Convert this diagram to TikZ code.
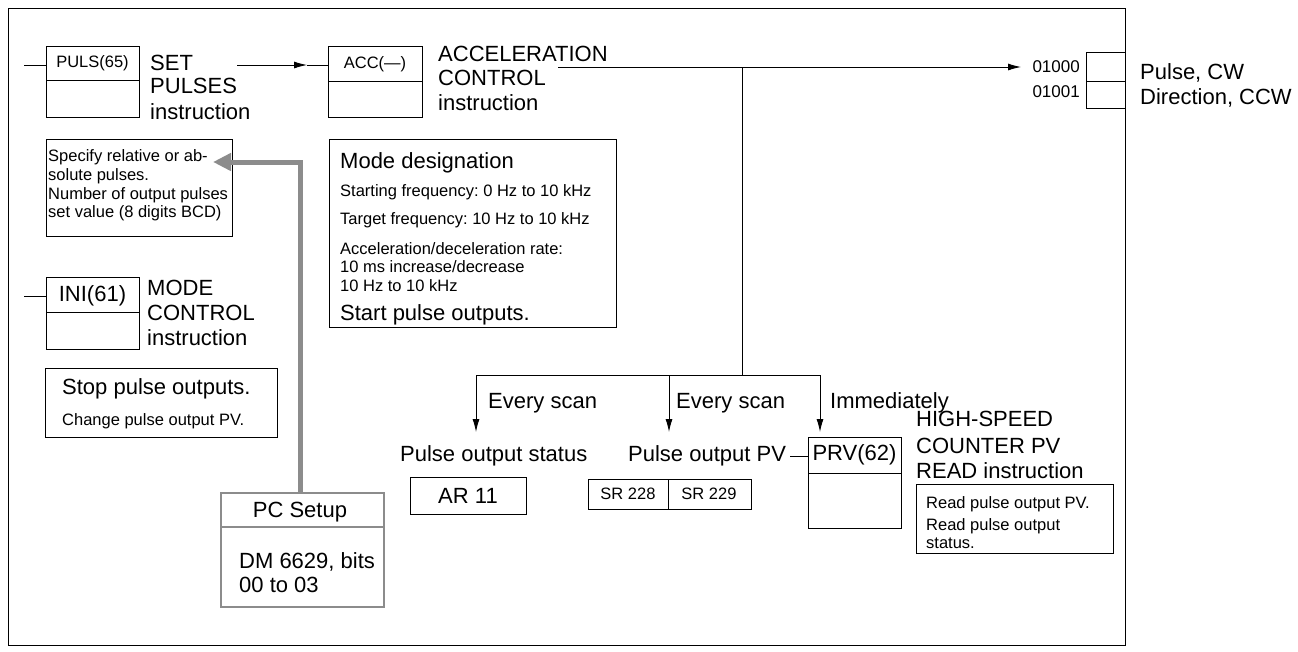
\documentclass[tikz,border=0pt]{standalone}
\usepackage{fontspec}
\setmainfont{Liberation Sans}
\usetikzlibrary{arrows.meta}
\begin{document}
\frenchspacing
\begin{tikzpicture}[x=1pt,y=-1pt,
  L/.style={inner sep=0,anchor=base west,font=\fontsize{22}{26}\selectfont},
  S/.style={inner sep=0,anchor=base west,font=\fontsize{16.5}{19}\selectfont},
  M/.style={inner sep=0,anchor=base east,font=\fontsize{17}{19}\selectfont},
  bx/.style={draw,line width=0.9pt,anchor=north west,inner sep=0},
  ln/.style={line width=0.9pt},
  arr/.style={ln,-{Latex[length=13,width=7]}},
  garr/.style={line width=5pt,draw=black!45,-{Triangle[length=18,width=17]}}]
\useasboundingbox (0,0) rectangle (1298,651);
\draw[ln] (8,8) rectangle (1125,645);
% PULS
\node[bx,minimum width=93,minimum height=71] (puls) at (46,46) {};
\draw[ln] (46,80) -- (139,80);
\node[S,anchor=center] at (92.5,63) {PULS(65)};
\coordinate (pl) at (24,65);
\draw[ln] (pl) -- (puls.west|-pl);
\node[L] at (150,70) {SET};
\node[L] at (150,93) {PULSES};
\node[L] at (150,119) {instruction};
% ACC
\node[bx,minimum width=94,minimum height=71] (acc) at (328,46) {};
\draw[ln] (328,81) -- (422,81);
\node[S,anchor=center] at (375,64) {ACC(---)};
\coordinate (a1) at (237,65);
\coordinate (a2) at (307,65);
\draw[arr] (a1) -- (a2);
\draw[ln] (a2) -- (acc.west|-a2);
\node[L] at (438,61) {ACCELERATION};
\node[L] at (438,85) {CONTROL};
\node[L] at (438,110) {instruction};
% main line
\coordinate (m1) at (558,67);
\coordinate (m2) at (1021,67);
\draw[arr] (m1) -- (m2);
\node[M] at (1080,72) {01000};
\node[M] at (1080,97) {01001};
\node[bx,minimum width=39,minimum height=56] (out) at (1086,52) {};
\draw[ln] (1086,81) -- (1125,81);
\node[L] at (1140,79) {Pulse, CW};
\node[L] at (1140,104) {Direction, CCW};
% spec box
\node[bx,minimum width=186,minimum height=97] (spec) at (46,139) {};
\node[S] at (48,161) {Specify relative or ab-};
\node[S] at (48,180) {solute pulses.};
\node[S] at (48,199) {Number of output pulses};
\node[S] at (48,217) {set value (8 digits BCD)};
% mode box
\node[bx,minimum width=287,minimum height=188] (mode) at (329,139) {};
\node[L] at (340,168) {Mode designation};
\node[S] at (340,196) {Starting frequency: 0 Hz to 10 kHz};
\node[S] at (340,224) {Target frequency: 10 Hz to 10 kHz};
\node[S] at (340,254) {Acceleration/deceleration rate:};
\node[S] at (340,272) {10 ms increase/decrease};
\node[S] at (340,291) {10 Hz to 10 kHz};
\node[L] at (340,320) {Start pulse outputs.};
% INI
\node[bx,minimum width=93,minimum height=72] (ini) at (46,277) {};
\draw[ln] (46,312) -- (139,312);
\node[L,anchor=center] at (92.5,296) {INI(61)};
\coordinate (il) at (24,296);
\draw[ln] (il) -- (ini.west|-il);
\node[L] at (147,295) {MODE};
\node[L] at (147,320) {CONTROL};
\node[L] at (147,345) {instruction};
% stop box
\node[bx,minimum width=232,minimum height=69] (stop) at (45,368) {};
\node[L] at (62,394) {Stop pulse outputs.};
\node[S] at (62,425) {Change pulse output PV.};
% PC setup
\node[draw=black!45,line width=2pt,anchor=north west,inner sep=0,minimum width=163,minimum height=114] (pc) at (220,492) {};
\draw[draw=black!45,line width=2pt] (220,527) -- (383,527);
\node[L,anchor=center] at (300,512) {PC Setup};
\node[L] at (239,568) {DM 6629, bits};
\node[L] at (239,592) {00 to 03};
\coordinate (g1) at (300,162);
\coordinate (g2) at (213,162);
\draw[garr] (pc.north-|g1) -- (g1) -- (g2);
% branches
\coordinate (b0) at (742,67);
\coordinate (b1) at (742,375);
\coordinate (l1) at (476,375);
\coordinate (l2) at (669,375);
\coordinate (l3) at (820,375);
\coordinate (e1) at (476,432);
\coordinate (e2) at (669,432);
\coordinate (e3) at (820,432);
\draw[ln] (b0) -- (b1);
\draw[ln] (l1) -- (l3);
\draw[arr] (l1) -- (e1);
\draw[arr] (l2) -- (e2);
\draw[arr] (l3) -- (e3);
\node[L] at (488,408) {Every scan};
\node[L] at (676,408) {Every scan};
\node[L] at (830,408) {Immediately};
\node[L] at (400,461) {Pulse output status};
\node[L] at (628,461) {Pulse output PV};
\node[bx,minimum width=116,minimum height=37] (ar) at (410,477) {};
\node[L,anchor=center] at (468,496) {AR 11};
\node[bx,minimum width=163,minimum height=30] (sr) at (588,479) {};
\draw[ln] (668,479) -- (668,509);
\node[S,anchor=center] at (628,494) {SR 228};
\node[S,anchor=center] at (709,494) {SR 229};
% PRV
\node[bx,minimum width=93,minimum height=91] (prv) at (808,437) {};
\draw[ln] (808,473) -- (901,473);
\node[L,anchor=center] at (854.5,455) {PRV(62)};
\coordinate (pv) at (790,456);
\draw[ln] (pv) -- (prv.west|-pv);
\node[L] at (916,426) {HIGH-SPEED};
\node[L] at (916,453) {COUNTER PV};
\node[L] at (916,478) {READ instruction};
\node[bx,minimum width=197,minimum height=69] (rd) at (916,484) {};
\node[S] at (926,508) {Read pulse output PV.};
\node[S] at (926,530) {Read pulse output};
\node[S] at (926,548) {status.};
\end{tikzpicture}
\end{document}
